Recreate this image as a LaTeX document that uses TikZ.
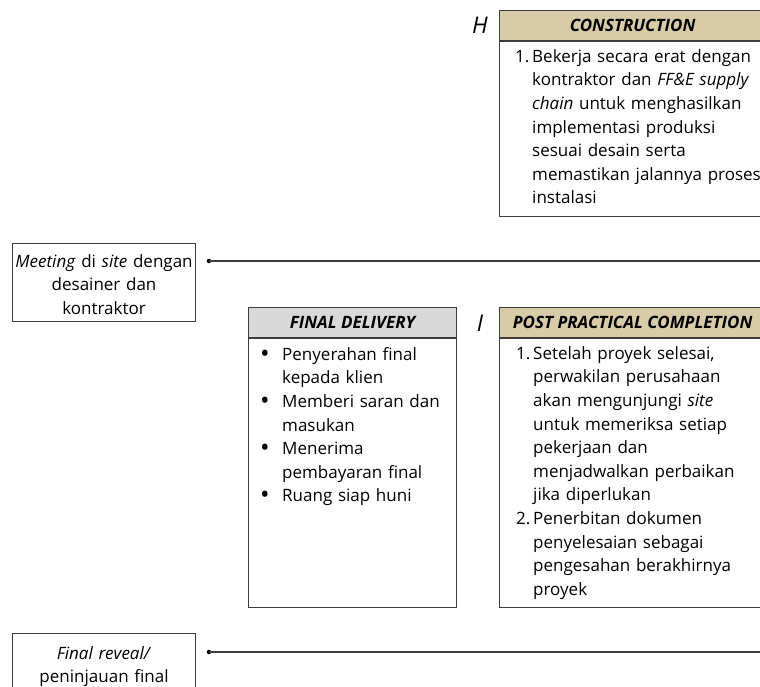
\documentclass[tikz,border=0pt]{standalone}
\usepackage{fontspec}
\setmainfont{Open Sans}
\usetikzlibrary{positioning}

\definecolor{tanhead}{RGB}{216,203,168}
\definecolor{greyhead}{RGB}{217,217,217}
\definecolor{edge}{RGB}{60,60,60}

% numbered and bulleted items with a hanging indent, lines broken by hand
\newcommand\numitem[2]{{\let\\\newline\hangindent=17pt\hangafter=1%
  \noindent\makebox[17pt][l]{#1}#2\par}}
\newcommand\bulitem[1]{{\let\\\newline\hangindent=22pt\hangafter=1%
  \noindent\makebox[22pt][l]{\raisebox{-1.8pt}{\scalebox{1.5}{\textbullet}}}#1\par}}

\tikzset{
  box/.style={draw=edge, line width=1.1pt},
  head/.style={box, inner sep=0pt, minimum height=30pt, anchor=north west,
    font=\fontsize{17}{20}\selectfont\bfseries\itshape},
  frame/.style={box, inner sep=0pt, anchor=north west},
  list/.style={inner sep=0pt, anchor=north west, text width=300pt, align=left},
  note/.style={box, text width=179pt, align=center, minimum width=183pt,
    minimum height=78pt, inner xsep=2pt},
  phase/.style={font=\fontsize{23}{26}\selectfont\itshape},
  dot/.style={circle, fill=black, inner sep=0pt, minimum size=4.5pt},
  link/.style={draw=edge, line width=1.1pt}
}

\begin{document}
\begin{tikzpicture}[x=1pt, y=-1pt, font=\fontsize{17}{23.6}\selectfont]
\useasboundingbox (0,0) rectangle (760,687);
\clip (0,0) rectangle (760,687);

% H: construction
\node[phase] (hlab) at (480,25) {H};
\node[head, fill=tanhead, minimum width=266pt] (hhead) at (499,10) {CONSTRUCTION};
\node[frame, minimum width=266pt, minimum height=175pt] (hbody) at (hhead.south west) {};
\node[list, xshift=16pt, yshift=-8pt] (htext) at (hbody.north west) {%
  \numitem{1.}{Bekerja secara erat dengan\\ kontraktor dan \textit{FF\&E supply}\\
  \textit{chain} untuk menghasilkan\\ implementasi produksi\\ sesuai desain serta\\
  memastikan jalannya proses\\ instalasi}};

% meeting on site
\node[note, anchor=north west, inner ysep=3pt] (meet) at (12,243)
  {\strut\textit{Meeting} di \textit{site} dengan\\ desainer dan\\ kontraktor};
\node[dot] (meetdot) at (209,261) {};
\coordinate (meetend) at (760,261);
\draw[link] (meetdot.center) -- (meetend);

% final delivery
\node[head, fill=greyhead, minimum width=208pt] (fdhead) at (248,307) {FINAL DELIVERY};
\node[frame, minimum width=208pt, minimum height=269pt] (fdbody) at (fdhead.south west) {};
\node[list, xshift=12pt, yshift=-9pt] (fdtext) at (fdbody.north west) {%
  \bulitem{Penyerahan final\\ kepada klien}
  \bulitem{Memberi saran dan\\ masukan}
  \bulitem{Menerima\\ pembayaran final}
  \bulitem{Ruang siap huni}};

% I: post practical completion
\node[phase] (ilab) at (480,323) {I};
\node[head, fill=tanhead, minimum width=266pt] (ihead) at (499,307) {POST PRACTICAL COMPLETION};
\node[frame, minimum width=266pt, minimum height=269pt] (ibody) at (ihead.south west) {};
\node[list, xshift=17pt, yshift=-8pt] (itext) at (ibody.north west) {%
  \numitem{1.}{Setelah proyek selesai,\\ perwakilan perusahaan\\ akan mengunjungi \textit{site}\\
  untuk memeriksa setiap\\ pekerjaan dan\\ menjadwalkan perbaikan\\ jika diperlukan}
  \numitem{2.}{Penerbitan dokumen\\ penyelesaian sebagai\\ pengesahan berakhirnya\\ proyek}};

% final reveal
\node[note, anchor=north west, inner ysep=6pt, text depth=40pt] (reveal) at (12,633)
  {\textit{Final reveal/}\\ peninjauan final};
\node[dot] (revealdot) at (209,652) {};
\coordinate (revealend) at (760,652);
\draw[link] (revealdot.center) -- (revealend);

\end{tikzpicture}
\end{document}
